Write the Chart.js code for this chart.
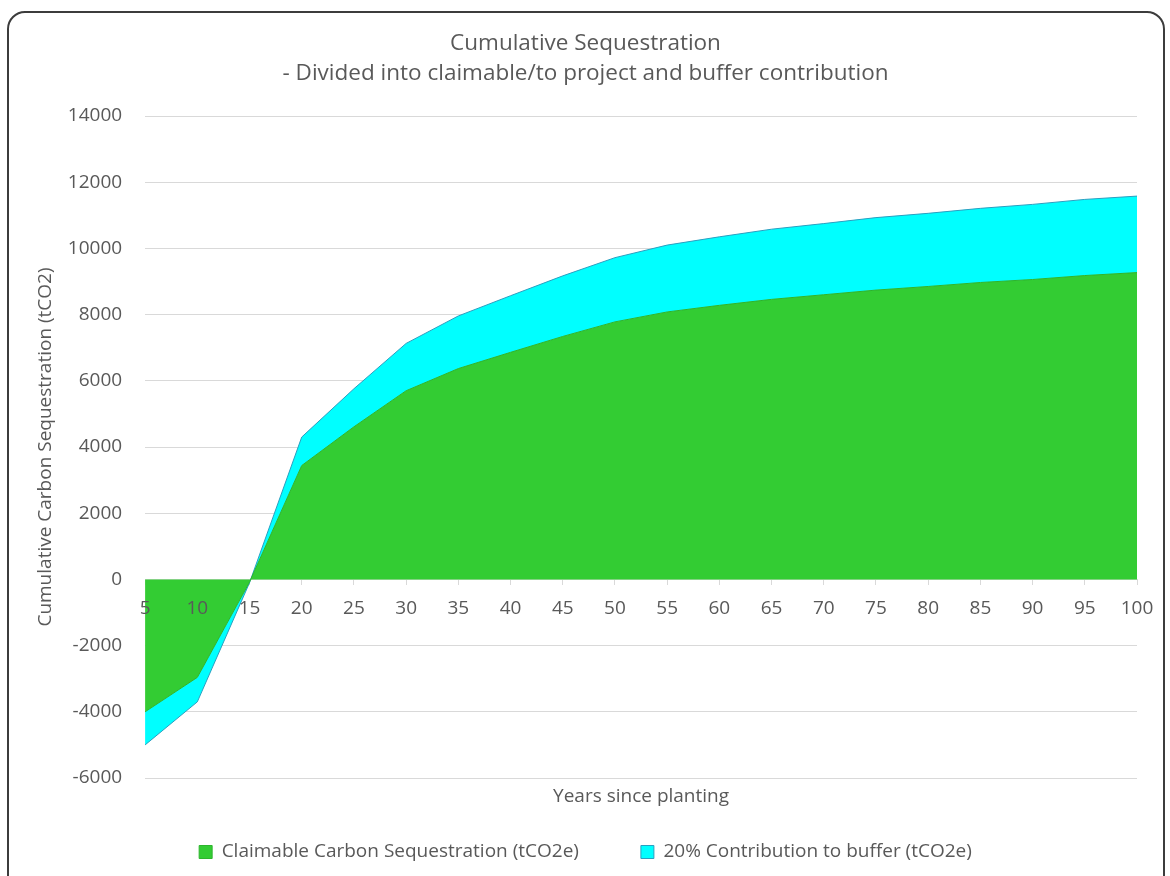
<!DOCTYPE html>
<html>
<head>
<meta charset="utf-8">
<script src="https://cdn.jsdelivr.net/npm/chart.js@4.4.1/dist/chart.umd.min.js"></script>
<style>
  html, body { margin: 0; padding: 0; background: #ffffff; }
  #wrap { position: relative; width: 1170px; height: 876px; overflow: hidden; }
  #frame {
    position: absolute; left: 7px; top: 11px; width: 1158px; height: 890px;
    border: 2px solid #3c3c3c; border-radius: 18px; box-sizing: border-box;
    pointer-events: none;
  }
  canvas { position: absolute; left: 0; top: 0; }
</style>
</head>
<body>
<div id="wrap">
  <canvas id="chart" width="1170" height="876"></canvas>
  <div id="frame"></div>
</div>
<script>
// Years since planting
const years = ['5','10','15','20','25','30','35','40','45','50','55','60','65','70','75','80','85','90','95','100'];

// Claimable / to-project share of cumulative sequestration (tCO2e)
const claimable = [-4000, -2960, -80, 3440, 4610, 5700, 6370, 6860, 7340, 7780,
                   8080, 8280, 8460, 8600, 8740, 8850, 8970, 9060, 9180, 9270];

// 20% contribution to the buffer pool (tCO2e), stacked on top of the claimable share
const buffer = [-1000, -740, -20, 860, 1150, 1430, 1590, 1710, 1830, 1940,
                2020, 2070, 2120, 2150, 2190, 2210, 2240, 2270, 2300, 2310];

const yMin = -6000, yMax = 14000, yStep = 2000;

const textColor = '#595959';
const gridColor = '#d9d9d9';
const fontFamily = '"Open Sans", Lato, sans-serif';

new Chart(document.getElementById('chart'), {
  type: 'line',
  data: {
    labels: years,
    datasets: [
      {
        label: 'Claimable Carbon Sequestration (tCO2e)',
        data: claimable,
        backgroundColor: '#33cc33',
        borderColor: '#2db52d',
        borderWidth: 1,
        pointRadius: 0,
        fill: 'origin',
        tension: 0,
        stack: 'seq'
      },
      {
        label: '20% Contribution to buffer (tCO2e)',
        data: buffer,
        backgroundColor: '#00ffff',
        borderColor: '#2a9fc0',
        borderWidth: 1,
        pointRadius: 0,
        fill: '-1',
        tension: 0,
        stack: 'seq'
      }
    ]
  },
  options: {
    responsive: false,
    animation: false,
    layout: { padding: { left: 34, right: 33, top: 0, bottom: 4.5 } },
    plugins: {
      title: {
        display: true,
        text: ['Cumulative Sequestration', '- Divided into claimable/to project and buffer contribution'],
        color: textColor,
        font: { family: fontFamily, size: 22.5, weight: 'normal', lineHeight: '30px' },
        padding: { top: 29, bottom: 27 }
      },
      legend: {
        position: 'bottom',
        labels: {
          color: textColor,
          font: { family: fontFamily, size: 19 },
          boxWidth: 13,
          boxHeight: 13,
          padding: 62,
          generateLabels(chart) {
            return chart.data.datasets.map((ds, i) => ({
              text: ds.label,
              fillStyle: ds.backgroundColor,
              strokeStyle: ds.borderColor,
              lineWidth: 1,
              fontColor: textColor,
              datasetIndex: i,
              hidden: false
            }));
          }
        }
      },
      tooltip: { enabled: false }
    },
    scales: {
      y: {
        stacked: true,
        min: yMin,
        max: yMax,
        ticks: {
          stepSize: yStep,
          color: textColor,
          font: { family: fontFamily, size: 19 },
          padding: 23,
          callback: (v) => String(v)
        },
        grid: { color: gridColor, lineWidth: 1, drawTicks: false },
        border: { display: false },
        title: {
          display: true,
          text: 'Cumulative Carbon Sequestration (tCO2)',
          color: textColor,
          font: { family: fontFamily, size: 19 },
          padding: { top: 0, bottom: -12 }
        }
      },
      x: {
        position: { y: 0 },
        offset: false,
        ticks: {
          color: textColor,
          font: { family: fontFamily, size: 19 },
          padding: 13,
          maxRotation: 0,
          autoSkip: false,
          z: 1
        },
        grid: { display: true, drawOnChartArea: false, drawTicks: true, tickLength: 5, color: gridColor },
        border: { display: true, color: gridColor }
      },
      xTitle: {
        type: 'category',
        labels: years,
        position: 'bottom',
        offset: false,
        ticks: { display: false },
        grid: { display: false, drawTicks: false },
        border: { display: false },
        title: {
          display: true,
          text: 'Years since planting',
          color: textColor,
          font: { family: fontFamily, size: 19 },
          padding: { top: 7.6, bottom: -27.9 }
        }
      }
    }
  }
});
</script>
</body>
</html>
